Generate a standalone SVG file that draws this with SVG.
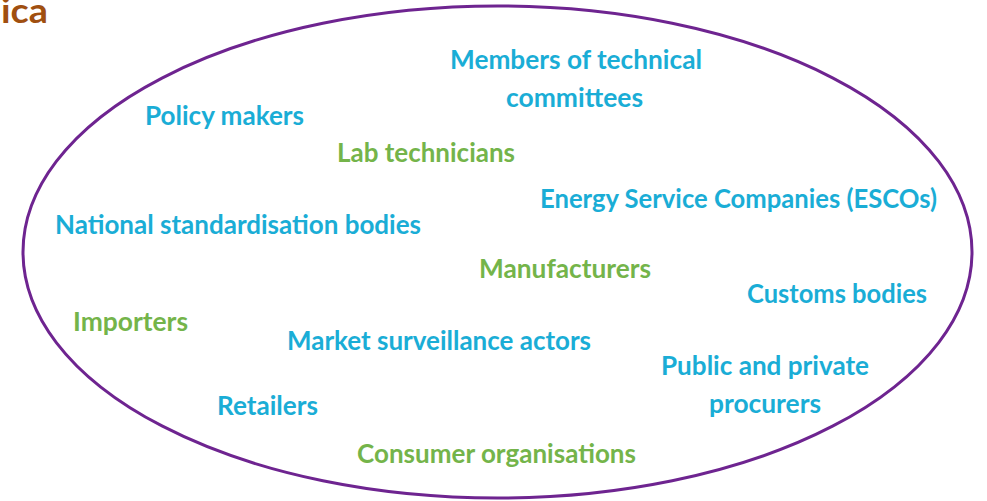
<svg xmlns="http://www.w3.org/2000/svg" width="987" height="501" viewBox="0 0 987 501">
<style>
text{font-family:Lato,"Open Sans","Liberation Sans",sans-serif;font-weight:700;font-size:26px}
.b{fill:#1AADD6}
.g{fill:#74B44A}
.t{fill:#A04F10;font-size:34px}
</style>
<rect width="987" height="501" fill="#fff"/>
<text class="t" x="1" y="23" textLength="47" lengthAdjust="spacingAndGlyphs">ica</text>
<g id="boundary"><ellipse cx="497.5" cy="252" rx="474.5" ry="246" fill="none" stroke="#6E2490" stroke-width="3"/></g>
<g id="members"><text class="b" x="450" y="69" textLength="252" lengthAdjust="spacingAndGlyphs">Members of technical</text><text class="b" x="506" y="107" textLength="137" lengthAdjust="spacingAndGlyphs">committees</text></g>
<g id="policy"><text class="b" x="145" y="125" textLength="159" lengthAdjust="spacingAndGlyphs">Policy makers</text></g>
<g id="lab"><text class="g" x="337" y="162" textLength="178" lengthAdjust="spacingAndGlyphs">Lab technicians</text></g>
<g id="escos"><text class="b" x="540" y="208" textLength="397" lengthAdjust="spacingAndGlyphs">Energy Service Companies (ESCOs)</text></g>
<g id="national"><text class="b" x="55" y="234" textLength="366" lengthAdjust="spacingAndGlyphs">National standardisation bodies</text></g>
<g id="manufacturers"><text class="g" x="479" y="278" textLength="172" lengthAdjust="spacingAndGlyphs">Manufacturers</text></g>
<g id="customs"><text class="b" x="747" y="303" textLength="180" lengthAdjust="spacingAndGlyphs">Customs bodies</text></g>
<g id="importers"><text class="g" x="73" y="331" textLength="115" lengthAdjust="spacingAndGlyphs">Importers</text></g>
<g id="market"><text class="b" x="287" y="350" textLength="304" lengthAdjust="spacingAndGlyphs">Market surveillance actors</text></g>
<g id="procurers"><text class="b" x="661" y="375" textLength="208" lengthAdjust="spacingAndGlyphs">Public and private</text><text class="b" x="709" y="413" textLength="112" lengthAdjust="spacingAndGlyphs">procurers</text></g>
<g id="retailers"><text class="b" x="217" y="415" textLength="101" lengthAdjust="spacingAndGlyphs">Retailers</text></g>
<g id="consumer"><text class="g" x="357" y="463" textLength="279" lengthAdjust="spacingAndGlyphs">Consumer organisations</text></g>
<g id="connectors"></g>
</svg>
